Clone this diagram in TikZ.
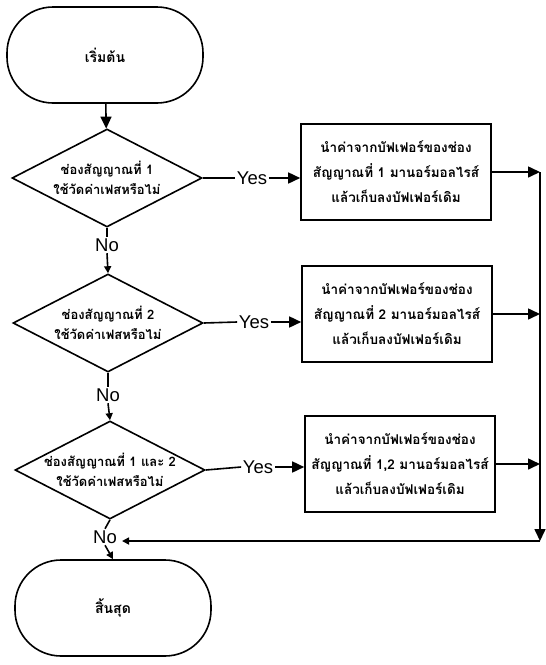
\documentclass[tikz,border=0pt]{standalone}
\usepackage{fontspec}
\setmainfont{Liberation Sans}
\newfontfamily\thaifont[Script=Thai]{Loma}
\usetikzlibrary{shapes.geometric,arrows.meta}
\begin{document}
\begin{tikzpicture}[x=1pt,y=-1pt,line width=1.6pt,
  term/.style={draw,rectangle,rounded corners=46pt,minimum width=196pt,minimum height=96pt,font=\thaifont\bfseries\fontsize{14}{16}\selectfont},
  dia/.style={draw,diamond,minimum width=190pt,minimum height=98pt,inner sep=0pt},
  diatext/.style={font=\thaifont\bfseries\fontsize{13}{20}\selectfont,align=center,inner sep=0pt},
  procbox/.style={draw,rectangle,minimum width=190pt,minimum height=96pt,font=\thaifont\bfseries\fontsize{13.5}{25}\selectfont,align=center},
  lbl/.style={font=\fontsize{18.5}{18.5}\selectfont,inner sep=1pt},
  arr/.style={-{Triangle[length=12pt,width=11pt]}},
  sarr/.style={-{Triangle[length=7pt,width=7pt]}}]
\useasboundingbox (0,0) rectangle (546,665);

\node[term] (start) at (105,55) {เริ่มต้น};

\node[dia] (d1) at (107,178) {};
\node[diatext] (t1) at (d1) {ช่องสัญญาณที่ 1\\ใช้วัดค่าเฟสหรือไม่};
\node[dia] (d2) at (108,323) {};
\node[diatext] (t2) at (d2) {ช่องสัญญาณที่ 2\\ใช้วัดค่าเฟสหรือไม่};
\node[dia] (d3) at (110,470) {};
\node[diatext] (t3) at (d3) {ช่องสัญญาณที่ 1 และ 2\\ใช้วัดค่าเฟสหรือไม่};

\node[procbox] (b1) at (396,172) {นำค่าจากบัฟเฟอร์ของช่อง\\สัญญาณที่ 1 มานอร์มอลไรส์\\แล้วเก็บลงบัฟเฟอร์เดิม};
\node[procbox] (b2) at (397,314) {นำค่าจากบัฟเฟอร์ของช่อง\\สัญญาณที่ 2 มานอร์มอลไรส์\\แล้วเก็บลงบัฟเฟอร์เดิม};
\node[procbox] (b3) at (400,464) {นำค่าจากบัฟเฟอร์ของช่อง\\สัญญาณที่ 1,2 มานอร์มอลไรส์\\แล้วเก็บลงบัฟเฟอร์เดิม};

\node[term] (end) at (113,608) {สิ้นสุด};

\node[lbl] (yes1) at (252,178) {Yes};
\node[lbl] (yes2) at (254,322) {Yes};
\node[lbl] (yes3) at (258,467) {Yes};
\node[lbl] (no1) at (107,245) {No};
\node[lbl] (no2) at (108,395) {No};
\node[lbl] (no3) at (105,537) {No};

\coordinate (rtop) at (540,172);
\coordinate (rbot) at (540,541);
\coordinate (lend) at (122,541);

\draw[arr] (start) -- (d1);
\draw (d1.south) -- (no1.north);
\draw[sarr] (no1.south) -- (d2.north);
\draw (d2.south) -- (no2.north);
\draw[sarr] (no2.south) -- (d3.north);
\draw (d3.south) -- (no3.north);
\draw[sarr] (no3.south) -- (end.north);

\draw (d1.east) -- (yes1.west);
\draw[arr] (yes1.east) -- (b1.west |- yes1);
\draw (d2.east) -- (yes2.west);
\draw[arr] (yes2.east) -- (b2.west |- yes2);
\draw (d3.east) -- (yes3.west);
\draw[arr] (yes3.east) -- (b3.west |- yes3);

\draw[arr] (b1.east) -- (b1.east -| rtop);
\draw[arr] (b2.east) -- (b2.east -| rtop);
\draw[arr] (b3.east) -- (b3.east -| rtop);
\draw[arr] (rtop) -- (rbot);
\draw[sarr] (rbot) -- (lend);
\end{tikzpicture}
\end{document}
